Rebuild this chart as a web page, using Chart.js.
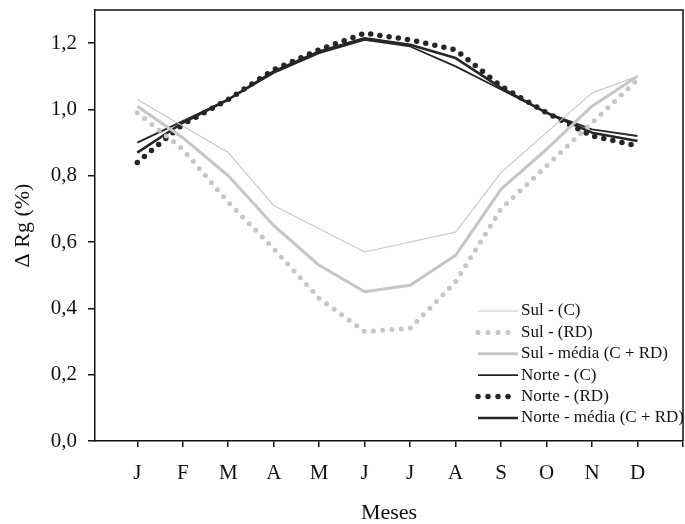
<!DOCTYPE html>
<html>
<head>
<meta charset="utf-8">
<script src="https://cdn.jsdelivr.net/npm/chart.js@4/dist/chart.umd.min.js"></script>
<style>
html,body{margin:0;padding:0;background:#fff;}
#c{display:block;}
</style>
</head>
<body>
<canvas id="c" width="685" height="524"></canvas>
<script>
const months = ['J','F','M','A','M','J','J','A','S','O','N','D'];
const yTicks = [0, 0.2, 0.4, 0.6, 0.8, 1.0, 1.2];

const sulC    = [1.03, 0.95, 0.87, 0.71, 0.64, 0.57, 0.60, 0.63, 0.81, 0.93, 1.05, 1.10];
const sulRD   = [0.99, 0.88, 0.72, 0.58, 0.43, 0.33, 0.34, 0.48, 0.70, 0.83, 0.96, 1.09];
const sulMed  = [1.01, 0.915, 0.80, 0.65, 0.53, 0.45, 0.47, 0.56, 0.76, 0.88, 1.01, 1.10];
const norteC  = [0.90, 0.965, 1.03, 1.11, 1.17, 1.21, 1.19, 1.13, 1.06, 0.99, 0.94, 0.92];
const norteRD = [0.84, 0.955, 1.03, 1.12, 1.18, 1.23, 1.21, 1.18, 1.07, 0.99, 0.92, 0.89];
const norteMed= [0.87, 0.96, 1.03, 1.115, 1.175, 1.215, 1.195, 1.155, 1.065, 0.99, 0.93, 0.905];

const seriesNames = ['Sul - (C)', 'Sul - (RD)', 'Sul - média (C + RD)', 'Norte - (C)', 'Norte - (RD)', 'Norte - média (C + RD)'];

const FONT = '"Liberation Serif", "Times New Roman", serif';
const LIGHT = '#c6c6c6';
const DARK = '#262626';

function pts(arr){ return arr.map((v,i)=>({x:i+1, y:v})); }

const styles = [
  {borderColor: LIGHT, borderWidth: 1.1, borderDash: [], borderCapStyle: 'butt'},
  {borderColor: LIGHT, borderWidth: 5, borderDash: [0, 9.3], borderCapStyle: 'round'},
  {borderColor: LIGHT, borderWidth: 3, borderDash: [], borderCapStyle: 'butt'},
  {borderColor: DARK, borderWidth: 1.8, borderDash: [], borderCapStyle: 'butt'},
  {borderColor: DARK, borderWidth: 5.5, borderDash: [0, 9.3], borderCapStyle: 'round'},
  {borderColor: DARK, borderWidth: 2.6, borderDash: [], borderCapStyle: 'butt'}
];
const seriesData = [sulC, sulRD, sulMed, norteC, norteRD, norteMed];

const datasets = seriesData.map((d,i)=>Object.assign({
  label: seriesNames[i],
  data: pts(d),
  pointRadius: 0,
  tension: 0,
  fill: false,
  borderJoinStyle: 'round'
}, styles[i]));

const framePlugin = {
  id: 'frame',
  afterDraw(chart){
    const {ctx, chartArea: a} = chart;
    ctx.save();
    ctx.strokeStyle = '#111';
    ctx.lineWidth = 1.5;
    ctx.beginPath();
    ctx.moveTo(a.left, a.top);
    ctx.lineTo(a.right, a.top);
    ctx.lineTo(a.right, a.bottom);
    ctx.stroke();
    // legend
    const x0 = a.right - 205, x1 = a.right - 165, tx = a.right - 162;
    const y0 = a.top + 301, dy = 21.4;
    chart.data.datasets.forEach((ds,i)=>{
      const y = y0 + i*dy;
      ctx.beginPath();
      ctx.strokeStyle = ds.borderColor;
      ctx.lineWidth = ds.borderWidth;
      ctx.lineCap = ds.borderCapStyle;
      const dash = ds.borderDash.length ? [0, 10] : [];
      ctx.setLineDash(dash);
      ctx.moveTo(x0, y);
      ctx.lineTo(x1, y);
      ctx.stroke();
      ctx.setLineDash([]);
      ctx.fillStyle = '#111';
      ctx.font = '17px ' + FONT;
      ctx.textBaseline = 'middle';
      ctx.textAlign = 'left';
      ctx.fillText(ds.label, tx, y);
    });
    ctx.restore();
  }
};

new Chart(document.getElementById('c'), {
  type: 'line',
  data: { datasets },
  options: {
    responsive: false,
    animation: false,
    devicePixelRatio: 1,
    layout: { padding: { left: 0, top: 10, right: 2, bottom: 0 } },
    plugins: { legend: { display: false }, tooltip: { enabled: false } },
    scales: {
      x: {
        type: 'linear',
        min: 0.07,
        max: 13,
        afterBuildTicks(s){ s.ticks = Array.from({length: 13}, (_,i)=>({value: i+1})); },
        afterFit(s){ s.height = 83; s.paddingLeft = 0; s.paddingRight = 0; },
        ticks: {
          color: '#111',
          font: { family: FONT, size: 21 },
          padding: 14,
          maxRotation: 0,
          autoSkip: false,
          callback: (v)=> months[v-1] || ''
        },
        grid: { drawOnChartArea: false, color: '#111', lineWidth: 1.5, tickLength: 6 },
        border: { display: true, color: '#111', width: 1.5 },
        title: { display: true, text: 'Meses', color: '#111', font: { family: FONT, size: 22, lineHeight: 1 }, padding: { top: 0, bottom: 0 } }
      },
      y: {
        min: 0,
        max: 1.3,
        afterBuildTicks(s){ s.ticks = yTicks.map(v=>({value: v})); },
        afterFit(s){ s.width = 95; s.paddingTop = 0; s.paddingBottom = 0; },
        ticks: {
          color: '#111',
          font: { family: FONT, size: 21 },
          padding: 11,
          callback: (v)=> Number(v).toFixed(1).replace('.', ',')
        },
        grid: { drawOnChartArea: false, color: '#111', lineWidth: 1.5, tickLength: 7 },
        border: { display: true, color: '#111', width: 1.5 },
        title: { display: true, text: 'Δ Rg (%)', color: '#111', font: { family: FONT, size: 22, lineHeight: 1 }, padding: { top: 12, bottom: 0 } }
      }
    }
  },
  plugins: [framePlugin]
});
</script>
</body>
</html>
